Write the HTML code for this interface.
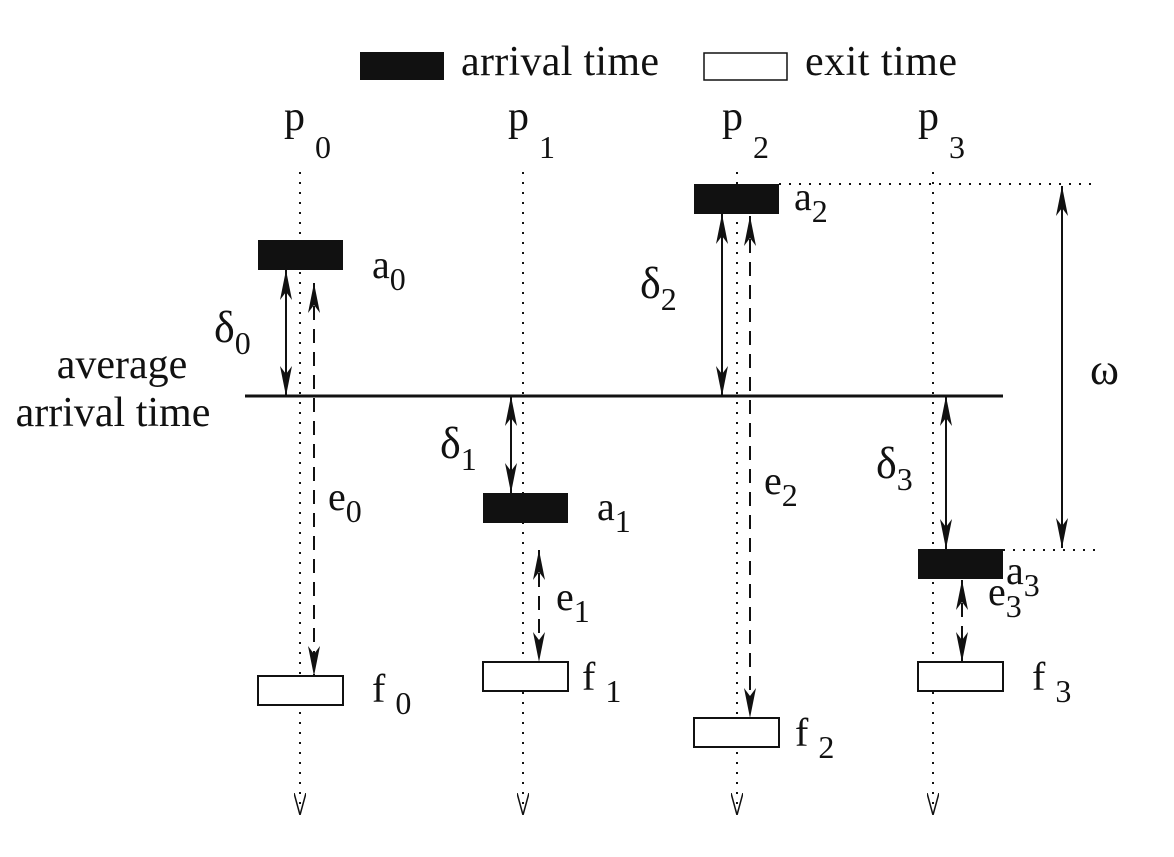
<!DOCTYPE html>
<html><head><meta charset="utf-8"><style>
html,body{margin:0;padding:0;background:#fff}
svg{display:block}
text{font-family:"Liberation Serif",serif;fill:#111}
</style></head><body>
<svg id="c" width="1174" height="857" viewBox="0 0 1174 857">
<defs>
<marker id="ah" viewBox="0 0 30 12" refX="30" refY="6" markerWidth="30" markerHeight="12" markerUnits="userSpaceOnUse" orient="auto-start-reverse"><path d="M0,0 L30,6 L0,12 L8,6 Z" fill="#111"/></marker>
<marker id="oh" viewBox="0 0 22 12" refX="22" refY="6" markerWidth="22" markerHeight="12" markerUnits="userSpaceOnUse" orient="auto"><path d="M0,0 L22,6 L0,12" fill="none" stroke="#111" stroke-width="1.5"/></marker>
</defs>
<g>
<rect x="360" y="52" width="84" height="28" fill="#111"/>
<text x="461" y="75" font-size="42" textLength="198">arrival time</text>
<rect x="704" y="53" width="83" height="27" fill="none" stroke="#111" stroke-width="1.5"/>
<text x="805" y="75" font-size="42" textLength="152">exit time</text>
</g>
<line x1="245" y1="396" x2="1003" y2="396" stroke="#111" stroke-width="3"/>
<text x="122" y="378" font-size="42" text-anchor="middle">average</text>
<text x="113" y="426" font-size="42" text-anchor="middle">arrival time</text>
<g id="g"></g>
<line x1="779" y1="184" x2="1092" y2="184" stroke="#111" stroke-width="2" stroke-dasharray="2,8"/>
<line x1="1003" y1="550" x2="1100" y2="550" stroke="#111" stroke-width="2" stroke-dasharray="2,8"/>
<line x1="1062" y1="186" x2="1062" y2="548" stroke="#111" stroke-width="2" marker-start="url(#ah)" marker-end="url(#ah)"/>
<text x="1090" y="384" font-size="44">ω</text>
</svg>
<script>
const processAxes = [300, 523, 737, 933];
const boxLeft = [258, 483, 694, 918];
const arrivalTop = [240, 493, 184, 549];
const exitTop = [676, 662, 718, 662];
const execStart = [283, 550, 216, 580];
const names = ['0','1','2','3'];
const NS = 'http://www.w3.org/2000/svg';
const g = document.getElementById('g');
const lineY = 396, boxH = 30;
const pLbl=[[284,130],[508,130],[722,130],[918,130]];
const aLbl=[[372,278],[597,520],[794,210],[1006,584]];
const fLbl=[[372,702],[582,690],[795,746],[1032,690]];
const dLbl=[[214,342],[440,458],[640,298],[876,478]];
const eLbl=[[328,510],[556,610],[764,494],[988,605]];
function mk(tag, attrs){const e=document.createElementNS(NS,tag);for(const k in attrs)e.setAttribute(k,attrs[k]);g.appendChild(e);return e;}
function label(p,main,sub,size,dx,dy,ss){
  const t=mk('text',{x:p[0],y:p[1],'font-size':size});
  t.textContent=main;
  const s=document.createElementNS(NS,'tspan');s.setAttribute('dx',dx);s.setAttribute('dy',dy);s.setAttribute('font-size',ss||size*0.78);s.textContent=sub;t.appendChild(s);
  return t;
}
processAxes.forEach((ax,i)=>{
  const a=arrivalTop[i], f=exitTop[i], bl=boxLeft[i];
  let e=mk('line',{x1:ax,y1:172,x2:ax,y2:815,stroke:'#111','stroke-width':2,'stroke-dasharray':'2,8','marker-end':'url(#oh)'});
  
  
  e=label(pLbl[i],'p',names[i],42,10,28,32);
  
  
  e=mk('rect',{x:bl,y:a,width:85,height:boxH,fill:'#111'});
  
  
  e=label(aLbl[i],'a',names[i],40,0,12,32);
  
  
  e=mk('rect',{x:bl,y:f,width:85,height:boxH-1,fill:'#fff',stroke:'#111','stroke-width':2});
  
  
  e=label(fLbl[i],'f',names[i],40,10,12,32);
  
  
  const dx=bl+28;
  const dEnd = a<lineY ? a+boxH : a;
  e=mk('line',{x1:dx,y1:lineY,x2:dx,y2:dEnd,stroke:'#111','stroke-width':2,'marker-start':'url(#ah)','marker-end':'url(#ah)'});
  
  
  e=label(dLbl[i],'δ',names[i],44,0,12,32);
  
  
  const ex = i===3 ? bl+44 : bl+56;
  e=mk('line',{x1:ex,y1:execStart[i],x2:ex,y2:f,stroke:'#111','stroke-width':2,'stroke-dasharray':'14,9','marker-start':'url(#ah)','marker-end':'url(#ah)'});
  
  
  e=label(eLbl[i],'e',names[i],40,0,12,32);
  
  
});
</script>
</body></html>
